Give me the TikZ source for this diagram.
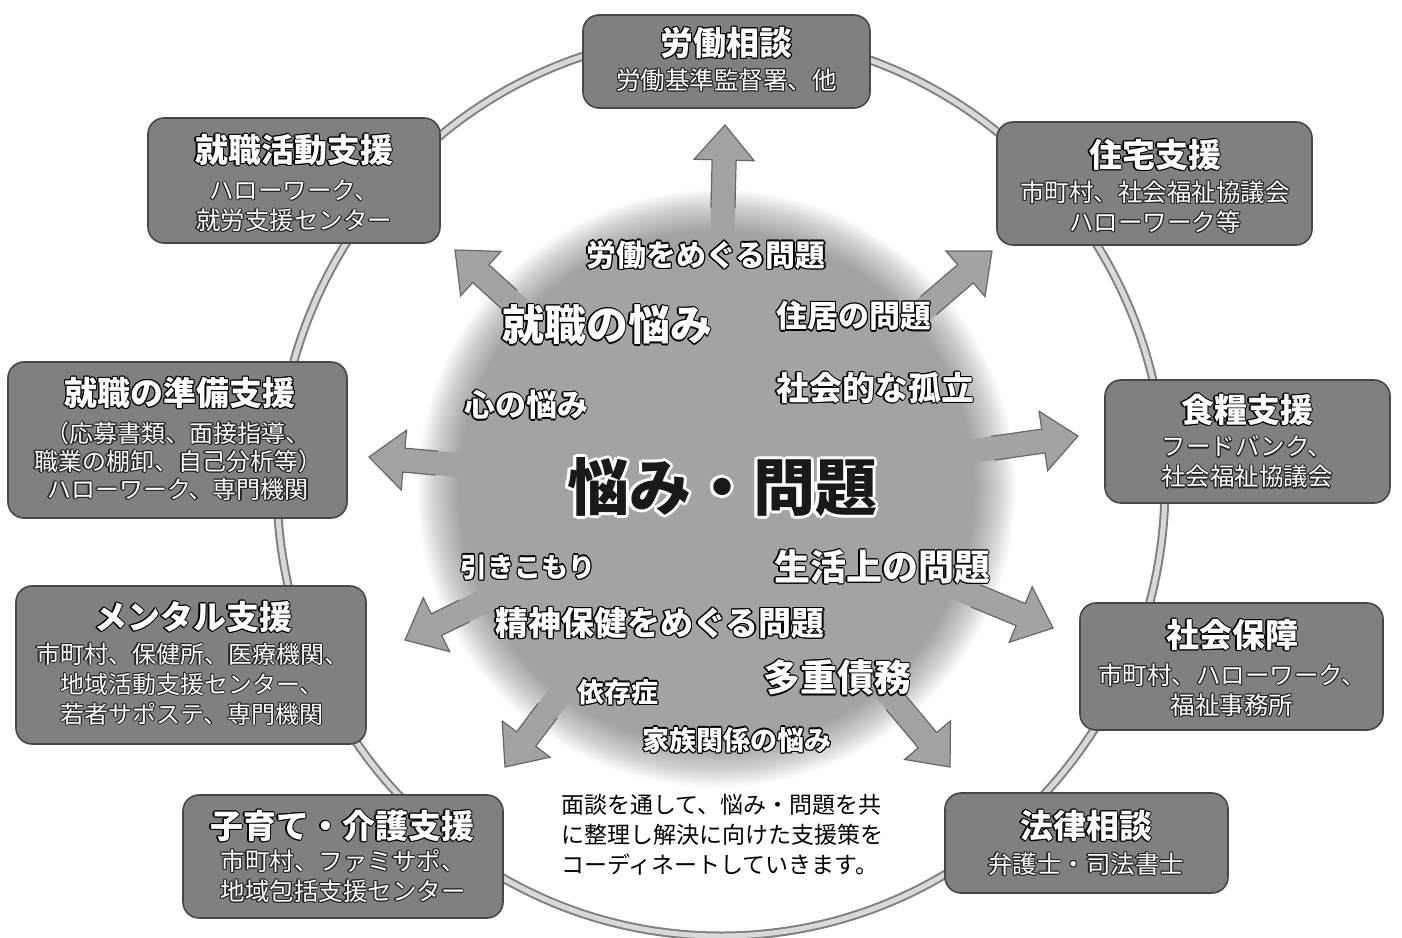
\documentclass[tikz,border=0pt]{standalone}
\usepackage{fontspec}
\newfontfamily\jp{Noto Sans CJK JP}
\usetikzlibrary{arrows.meta,calc}
\definecolor{blobc}{gray}{0.64}
\definecolor{blobm}{gray}{0.82}
\definecolor{boxc}{gray}{0.50}
\definecolor{boxline}{gray}{0.28}
\definecolor{arrc}{gray}{0.64}
\definecolor{arrl}{gray}{0.40}
\definecolor{ringo}{gray}{0.50}
\definecolor{ringi}{gray}{0.85}
\pgfdeclareradialshading{blobshade}{\pgfpoint{0bp}{0bp}}{color(0bp)=(blobc); color(21.5bp)=(blobc); color(23.5bp)=(blobm); color(25bp)=(white); color(50bp)=(white)}
% outlined text: copies of the text in the outline colour around the filled text
\newdimen\olw
\newcommand\ocp[2]{\rlap{\kern#1\raise#2\copy0}}
\newcommand\otxt[4]{\begingroup\olw=#3\relax\setbox0=\hbox{#4}%
  \color{#1}%
  \ocp{\olw}{0pt}\ocp{-\olw}{0pt}\ocp{0pt}{\olw}\ocp{0pt}{-\olw}%
  \ocp{.7\olw}{.7\olw}\ocp{-.7\olw}{.7\olw}\ocp{.7\olw}{-.7\olw}\ocp{-.7\olw}{-.7\olw}%
  \color{#2}\copy0\endgroup}
\newcommand\wt[1]{\otxt{black!85}{white}{1.1pt}{#1}}
\newcommand\wb[1]{\otxt{black}{white}{1.4pt}{#1}}
\begin{document}
\begin{tikzpicture}[x=1pt,y=-1pt,
  box/.style={draw=boxline, line width=1.6pt, fill=boxc, rounded corners=16pt, inner sep=0pt},
  ttl/.style={font=\jp\bfseries\fontsize{33}{38}\selectfont, inner sep=0pt},
  sub/.style={font=\jp\fontsize{24.5}{30}\selectfont, align=center, inner sep=0pt},
  btxt/.style={font=\jp\bfseries\fontsize{#1}{#1}\selectfont, inner sep=0pt},
  arrfill/.style={fill=arrc},
  arrline/.style={draw=arrl, line width=1.2pt, line join=miter},
  ring/.style={line width=9pt, draw=ringo},
  ringin/.style={line width=5pt, draw=ringi}
]
\useasboundingbox (0,0) rectangle (1402,937);
\fill[white] (0,0) rectangle (1402,937);

% outer ring
\draw[ring] (721,485) ellipse [x radius=444, y radius=451];
\draw[ringin] (721,485) ellipse [x radius=444, y radius=451];

% central blob
\shade[shading=blobshade] (716,488) circle [radius=300];
\node[circle, minimum size=560pt, inner sep=0pt] (blob) at (716,488) {};

% block arrows from the blob towards the boxes
\foreach \i/\ex/\ey/\L/\S in {1/725/125/83/150, 2/455/250/73/140, 3/992/251/84/150, 4/369/457/68/135, 5/1078/436/86/150, 6/405/640/66/135, 7/1053/628/84/150, 8/505/767/71/140, 9/950/767/85/150}{
  \coordinate (a\i e) at (\ex,\ey);
  \coordinate (a\i m) at ($(a\i e)!\L pt!(blob.center)$);
  \coordinate (a\i s) at ($(a\i e)!\S pt!(blob.center)$);
  \coordinate (a\i h) at ($(a\i e)!35pt!(blob.center)$);
  \fill[arrfill] ($(a\i s)!12pt!90:(a\i e)$) -- ($(a\i h)!12pt!90:(a\i e)$) -- ($(a\i h)!30pt!90:(a\i e)$) -- (a\i e) -- ($(a\i h)!30pt!-90:(a\i e)$) -- ($(a\i h)!12pt!-90:(a\i e)$) -- ($(a\i s)!12pt!-90:(a\i e)$) -- cycle;
  \draw[arrline] ($(a\i m)!12pt!90:(a\i e)$) -- ($(a\i h)!12pt!90:(a\i e)$) -- ($(a\i h)!30pt!90:(a\i e)$) -- (a\i e) -- ($(a\i h)!30pt!-90:(a\i e)$) -- ($(a\i h)!12pt!-90:(a\i e)$) -- ($(a\i m)!12pt!-90:(a\i e)$);
}

% boxes
\node[box, minimum width=287pt, minimum height=93pt] (b1) at (726.5,61.5) {};
\node[box, minimum width=292pt, minimum height=125pt] (b2) at (294,180.5) {};
\node[box, minimum width=315pt, minimum height=123pt] (b3) at (1154.5,183.5) {};
\node[box, minimum width=339pt, minimum height=156pt] (b4) at (177.5,440) {};
\node[box, minimum width=285pt, minimum height=123pt] (b5) at (1247.5,441.5) {};
\node[box, minimum width=350pt, minimum height=158pt] (b6) at (191,665) {};
\node[box, minimum width=303pt, minimum height=127pt] (b7) at (1231.5,666.5) {};
\node[box, minimum width=320pt, minimum height=123pt] (b8) at (343,856.5) {};
\node[box, minimum width=283pt, minimum height=100pt] (b9) at (1086.5,843) {};

% box titles
\node[ttl] (t1) at (726.5,43) {\wb{労働相談}};
\node[ttl] (t2) at (294,150) {\wb{就職活動支援}};
\node[ttl] (t3) at (1155,155) {\wb{住宅支援}};
\node[ttl] (t4) at (180,393) {\wb{就職の準備支援}};
\node[ttl] (t5) at (1247,410) {\wb{食糧支援}};
\node[ttl] (t6) at (193,617) {\wb{メンタル支援}};
\node[ttl] (t7) at (1232,635) {\wb{社会保障}};
\node[ttl] (t8) at (342,826) {\wb{子育て・介護支援}};
\node[ttl] (t9) at (1086,826) {\wb{法律相談}};

% box sub texts
\node[sub] (s1) at (726.5,80) {\wt{労働基準監督署、他}};
\node[sub] (s2) at (294,206) {\wt{ハローワーク、}\\\wt{就労支援センター}};
\node[sub] (s3) at (1155,207) {\wt{市町村、社会福祉協議会}\\\wt{ハローワーク等}};
\node[sub, font=\jp\fontsize{24}{28}\selectfont] (s4) at (178,461) {\wt{（応募書類、面接指導、}\\\wt{職業の棚卸、自己分析等）}\\\wt{ハローワーク、専門機関}};
\node[sub] (s5) at (1247,462) {\wt{フードバンク、}\\\wt{社会福祉協議会}};
\node[sub, font=\jp\fontsize{24}{30}\selectfont] (s6) at (192,684) {\wt{市町村、保健所、医療機関、}\\\wt{地域活動支援センター、}\\\wt{若者サポステ、専門機関}};
\node[sub] (s7) at (1232,690) {\wt{市町村、ハローワーク、}\\\wt{福祉事務所}};
\node[sub] (s8) at (343,876) {\wt{市町村、ファミサポ、}\\\wt{地域包括支援センター}};
\node[sub] (s9) at (1086,864) {\wt{弁護士・司法書士}};

% blob texts
\node[btxt=30] (p1) at (706,255) {\wb{労働をめぐる問題}};
\node[btxt=42] (p2) at (607,325) {\wb{就職の悩み}};
\node[btxt=31] (p3) at (854,316) {\wb{住居の問題}};
\node[btxt=31] (p4) at (526,405) {\wb{心の悩み}};
\node[btxt=33] (p5) at (875,388) {\wb{社会的な孤立}};
\node[btxt=62] (p6) at (722,487) {\otxt{white}{black!90}{3pt}{悩み・問題}};
\node[btxt=27] (p7) at (528,567) {\wb{引きこもり}};
\node[btxt=36] (p8) at (882,567) {\wb{生活上の問題}};
\node[btxt=33] (p9) at (660,623) {\wb{精神保健をめぐる問題}};
\node[btxt=37] (p10) at (837,678) {\wb{多重債務}};
\node[btxt=27] (p11) at (618,692) {\wb{依存症}};
\node[btxt=27] (p12) at (737,740) {\wb{家族関係の悩み}};

% note
\node[font=\jp\fontsize{23}{30}\selectfont, align=left, anchor=west, inner sep=0pt] (note) at (561,835) {面談を通して、悩み・問題を共\\に整理し解決に向けた支援策を\\コーディネートしていきます。};
\end{tikzpicture}
\end{document}
